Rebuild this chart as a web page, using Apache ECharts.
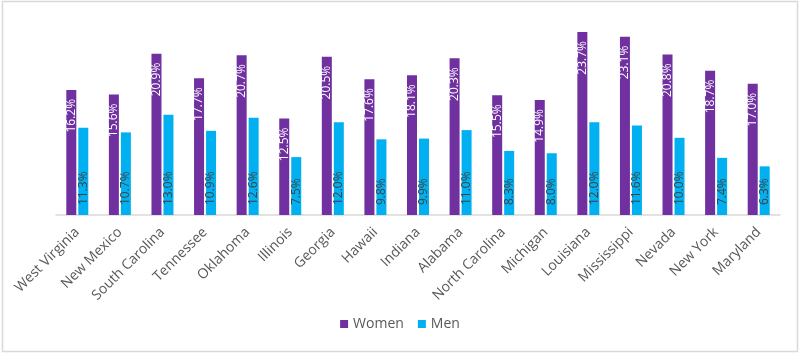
<!DOCTYPE html>
<html><head><meta charset="utf-8">
<script src="https://cdn.jsdelivr.net/npm/echarts@6/dist/echarts.min.js"></script>
<style>html,body{margin:0;padding:0;background:#fff}#c{width:800px;height:355px}</style>
</head><body><div id="c"></div>
<script>
const states = ["West Virginia","New Mexico","South Carolina","Tennessee","Oklahoma","Illinois","Georgia","Hawaii","Indiana","Alabama","North Carolina","Michigan","Louisiana","Mississippi","Nevada","New York","Maryland"];
const women = [16.2,15.6,20.9,17.7,20.7,12.5,20.5,17.6,18.1,20.3,15.5,14.9,23.7,23.1,20.8,18.7,17.0];
const men = [11.3,10.7,13.0,10.9,12.6,7.5,12.0,9.8,9.9,11.0,8.3,8.0,12.0,11.6,10.0,7.4,6.3];

const chart = echarts.init(document.getElementById('c'), null, {renderer:'canvas'});
const fam = "'Open Sans', 'Liberation Sans', sans-serif";
chart.setOption({
  animation:false,
  textStyle:{fontFamily:fam},
  graphic:[{type:'rect',shape:{x:2.5,y:1.5,width:795,height:350},style:{fill:'none',stroke:'#d9d9d9',lineWidth:1.5},silent:true}],
  grid:{left:56,right:20,top:22,bottom:140,containLabel:false},
  legend:{bottom:19,left:'center',itemWidth:8,itemHeight:8,itemGap:14,icon:'rect',
    textStyle:{color:'#595959',fontSize:14,fontFamily:fam},data:['Women','Men']},
  xAxis:{type:'category',data:states,
    axisLine:{lineStyle:{color:'#d9d9d9',width:1.5}},axisTick:{show:false},
    axisLabel:{rotate:45,color:'#595959',fontSize:14,margin:15,interval:0,fontFamily:fam}},
  yAxis:{type:'value',min:0,max:25,show:false,splitLine:{show:false}},
  series:[
    {name:'Women',type:'bar',data:women,barWidth:10,barGap:'20%',
     itemStyle:{color:'#7030A0'},
     label:{show:true,position:'insideTop',rotate:90,align:'right',verticalAlign:'middle',distance:9,
       color:'#ffffff',fontSize:12,fontFamily:fam,formatter:p=>p.value.toFixed(1)+'%'}},
    {name:'Men',type:'bar',data:men,barWidth:10,
     itemStyle:{color:'#00B0F0'},
     label:{show:true,position:'insideBottom',rotate:90,align:'left',verticalAlign:'middle',distance:10,
       color:'#404040',fontSize:12,fontFamily:fam,formatter:p=>p.value.toFixed(1)+'%'}}
  ]
});
</script></body></html>
